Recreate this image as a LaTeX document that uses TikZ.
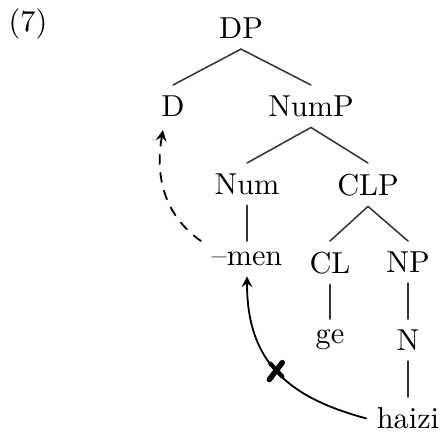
\documentclass[tikz,border=0pt]{standalone}
\begin{document}
\begin{tikzpicture}[>=stealth,line join=round,line cap=round,x=0.33pt,y=0.33pt]
	\useasboundingbox (0,0) rectangle (440,433);
	\def\lev{78}
	\node (ex) at (28,409) {(7)};
	\foreach \n/\x/\k/\t in {
		DP/241/0/DP,
		D/173/1/D,
		NumP/311/1/NumP,
		Num/247/2/Num,
		CLP/368/2/CLP,
		men/247/3/--men,
		CL/330/3/CL,
		NP/408/3/NP,
		ge/330/4/ge,
		N/408/4/N,
		haizi/408/5/haizi
	}
	\node[anchor=north] (\n) at (\x,{426-\lev*\k}) {\t};
	\foreach \a/\b in {DP/D,DP/NumP,NumP/Num,NumP/CLP,Num/men,CLP/CL,CLP/NP,CL/ge,NP/N,N/haizi}
	\draw[black!80,line width=0.5pt] (\a.south)--(\b.north);
	% movement
	\draw[->,dashed,line width=0.6pt] (men.north west) to[out=145,in=-100] ([shift={(-10,-3)}]D.south);
	\draw[->,line width=0.6pt] (haizi.west) to[out=165,in=-90,looseness=1.15] coordinate[pos=0.5] (bad) (men.south);
	\draw[line width=1.8pt] ([shift={(-7,-9)}]bad)--([shift={(6,8)}]bad);
	\draw[line width=1.4pt] ([shift={(-6,7)}]bad)--([shift={(6,-6)}]bad);
\end{tikzpicture}
\end{document}
